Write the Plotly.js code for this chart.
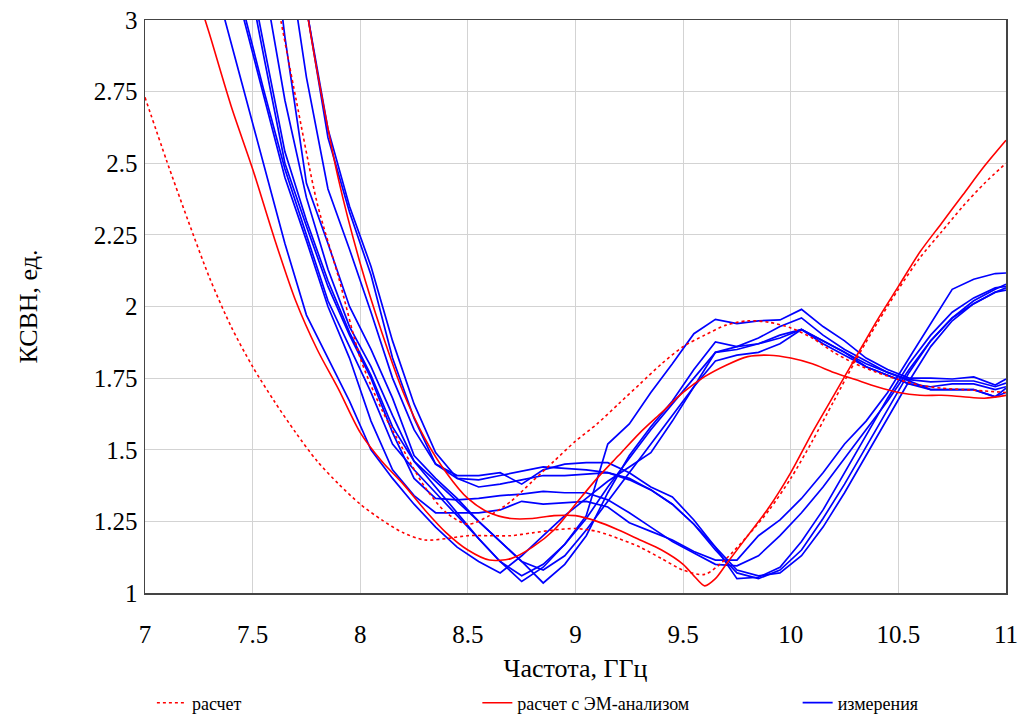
<!DOCTYPE html>
<html><head><meta charset="utf-8">
<script src="https://cdn.plot.ly/plotly-3.0.1.min.js"></script>
<style>html,body{margin:0;padding:0;background:#fff}#chart{width:1022px;height:715px}</style>
</head><body><div id="chart"></div>
<script>
// ---- "расчет" (dotted red) ----
const xCalcA = [7.0,7.1,7.2,7.3,7.4,7.5,7.6,7.7,7.8,7.9,8.0,8.1,8.2,8.3,8.4,8.5,8.6,8.7,8.8,8.9,9.0,9.1,9.2,9.3,9.4,9.5,9.6,9.7,9.8,9.9,10.0,10.1,10.2,10.3,10.4,10.5,10.6,10.7,10.8,10.9,11.0];
const yCalcA = [2.73,2.51,2.30,2.10,1.93,1.79,1.67,1.56,1.46,1.38,1.31,1.255,1.21,1.185,1.19,1.20,1.20,1.20,1.21,1.22,1.225,1.215,1.19,1.16,1.12,1.08,1.065,1.12,1.20,1.29,1.40,1.53,1.67,1.81,1.94,2.06,2.17,2.26,2.35,2.43,2.50];
const xCalcB = [7.6,7.7,7.8,7.9,8.0,8.1,8.2,8.3,8.4,8.5,8.6,8.7,8.8,8.9,9.0,9.1,9.2,9.3,9.4,9.5,9.6,9.7,9.8,9.9,10.0,10.1,10.2,10.3,10.4,10.5,10.6,10.7,10.8,10.9,11.0];
const yCalcB = [3.12,2.73,2.36,2.10,1.82,1.64,1.50,1.37,1.28,1.24,1.27,1.32,1.39,1.46,1.53,1.59,1.66,1.73,1.80,1.86,1.90,1.935,1.95,1.945,1.925,1.89,1.84,1.80,1.77,1.745,1.725,1.715,1.71,1.705,1.70];

// ---- "расчет с ЭМ-анализом" (solid red) ----
const xEmA = [7.25,7.3,7.4,7.5,7.6,7.7,7.8,7.9,8.0,8.1,8.2,8.3,8.4,8.5,8.6,8.7,8.8,8.9,9.0,9.1,9.2,9.3,9.4,9.5,9.6,9.7,9.8,9.9,10.0,10.1,10.2,10.3,10.4,10.5,10.6,10.7,10.8,10.9,11.0];
const yEmA = [3.07,2.95,2.70,2.48,2.24,2.02,1.85,1.71,1.56,1.46,1.38,1.29,1.21,1.15,1.115,1.12,1.16,1.22,1.31,1.40,1.48,1.56,1.63,1.70,1.755,1.795,1.825,1.83,1.82,1.80,1.77,1.745,1.72,1.70,1.69,1.69,1.685,1.68,1.69];
const xEmB = [7.75,7.8,7.9,8.0,8.1,8.2,8.3,8.4,8.5,8.6,8.7,8.8,8.9,9.0,9.1,9.2,9.3,9.4,9.5,9.55,9.6,9.65,9.7,9.8,9.9,10.0,10.1,10.2,10.3,10.4,10.5,10.6,10.7,10.8,10.9,11.0];
const yEmB = [3.04,2.82,2.44,2.15,1.91,1.70,1.54,1.42,1.33,1.28,1.26,1.26,1.27,1.27,1.25,1.22,1.185,1.15,1.10,1.06,1.025,1.05,1.10,1.20,1.30,1.42,1.56,1.69,1.82,1.95,2.07,2.19,2.29,2.39,2.49,2.58];

// ---- "измерения" (blue), common frequency grid ----
const xMeas = [7.25,7.35,7.45,7.55,7.65,7.75,7.85,7.95,8.05,8.15,8.25,8.35,8.45,8.55,8.65,8.75,8.85,8.95,9.05,9.15,9.25,9.35,9.45,9.55,9.65,9.75,9.85,9.95,10.05,10.15,10.25,10.35,10.45,10.55,10.65,10.75,10.85,10.95,11.0];
const meas1 = [3.33,3.06,2.78,2.50,2.22,1.97,1.82,1.67,1.50,1.40,1.31,1.23,1.16,1.11,1.07,1.13,1.20,1.27,1.33,1.39,1.44,1.49,1.60,1.72,1.81,1.83,1.84,1.87,1.92,1.88,1.84,1.79,1.76,1.73,1.71,1.71,1.71,1.685,1.715];
const meas2 = [3.62,3.32,3.03,2.74,2.45,2.23,2.00,1.82,1.60,1.43,1.34,1.28,1.28,1.28,1.29,1.32,1.31,1.315,1.32,1.30,1.245,1.215,1.185,1.145,1.115,1.115,1.20,1.255,1.33,1.42,1.52,1.60,1.70,1.82,1.94,2.06,2.095,2.115,2.117];
const meas3 = [3.65,3.35,3.06,2.76,2.48,2.25,2.02,1.86,1.70,1.52,1.43,1.35,1.27,1.19,1.11,1.04,1.09,1.17,1.27,1.52,1.59,1.70,1.80,1.905,1.955,1.94,1.95,1.953,1.99,1.93,1.88,1.82,1.78,1.75,1.75,1.747,1.754,1.726,1.747];
const meas4 = [4.04,3.66,3.27,2.88,2.50,2.28,2.07,1.90,1.75,1.56,1.40,1.33,1.325,1.33,1.34,1.345,1.355,1.35,1.35,1.325,1.28,1.23,1.18,1.14,1.10,1.095,1.13,1.20,1.28,1.37,1.47,1.57,1.67,1.78,1.88,1.96,2.02,2.06,2.078];
const meas5 = [4.08,3.69,3.31,2.92,2.54,2.30,2.09,1.91,1.76,1.58,1.46,1.39,1.32,1.25,1.18,1.11,1.035,1.10,1.20,1.35,1.48,1.58,1.67,1.78,1.876,1.86,1.89,1.93,1.96,1.90,1.85,1.81,1.77,1.745,1.737,1.74,1.74,1.72,1.733];
const meas6 = [4.46,4.02,3.59,3.15,2.72,2.38,2.13,1.93,1.79,1.62,1.46,1.37,1.28,1.19,1.11,1.06,1.10,1.17,1.26,1.37,1.47,1.57,1.66,1.75,1.84,1.85,1.87,1.90,1.92,1.87,1.83,1.79,1.76,1.73,1.72,1.73,1.73,1.71,1.72];
const meas7 = [5.40,4.80,4.20,3.56,2.94,2.43,2.22,2.00,1.85,1.68,1.48,1.40,1.33,1.25,1.18,1.11,1.08,1.13,1.22,1.32,1.42,1.52,1.62,1.72,1.84,1.86,1.87,1.89,1.92,1.88,1.84,1.80,1.77,1.74,1.71,1.71,1.71,1.685,1.70];
const meas8 = [5.30,4.80,4.30,3.80,3.30,2.80,2.41,2.20,1.98,1.75,1.57,1.45,1.40,1.395,1.41,1.425,1.44,1.435,1.43,1.42,1.395,1.36,1.31,1.24,1.15,1.07,1.05,1.08,1.15,1.26,1.38,1.51,1.64,1.77,1.88,1.96,2.01,2.05,2.057];
const meas9 = [5.30,4.90,4.40,3.95,3.50,3.05,2.59,2.33,2.11,1.82,1.61,1.45,1.41,1.41,1.42,1.38,1.43,1.45,1.455,1.455,1.42,1.37,1.335,1.255,1.16,1.05,1.055,1.09,1.18,1.29,1.42,1.55,1.68,1.80,1.90,1.98,2.03,2.065,2.07];
const meas10 = [5.40,5.00,4.50,4.00,3.50,3.04,2.62,2.35,2.14,1.88,1.66,1.49,1.40,1.37,1.38,1.395,1.41,1.41,1.415,1.42,1.40,1.36,1.31,1.24,1.16,1.08,1.06,1.07,1.13,1.23,1.35,1.48,1.61,1.74,1.86,1.95,2.01,2.05,2.065];
const measAll = [meas1,meas2,meas3,meas4,meas5,meas6,meas7,meas8,meas9,meas10];

const xTicks = [7,7.5,8,8.5,9,9.5,10,10.5,11];
const xTickText = ['7','7.5','8','8.5','9','9.5','10','10.5','11'];
const yTicks = [1,1.25,1.5,1.75,2,2.25,2.5,2.75,3];
const yTickText = ['1','1.25','1.5','1.75','2','2.25','2.5','2.75','3'];

const RED = '#ff0000', BLUE = '#0000ff';
const traces = [];
measAll.forEach((m,i) => traces.push({x:xMeas, y:m, type:'scatter', mode:'lines',
  line:{color:BLUE, width:1.7}, name:'измерения', legend:'legend3', showlegend:i===0}));
traces.push({x:xEmA, y:yEmA, type:'scatter', mode:'lines', line:{color:RED, width:1.6, shape:'spline', smoothing:0.8},
  name:'расчет с ЭМ-анализом', legend:'legend2', showlegend:true});
traces.push({x:xEmB, y:yEmB, type:'scatter', mode:'lines', line:{color:RED, width:1.6, shape:'spline', smoothing:0.8},
  name:'расчет с ЭМ-анализом', legend:'legend2', showlegend:false});
traces.push({x:xCalcA, y:yCalcA, type:'scatter', mode:'lines', line:{color:RED, width:1.6, dash:'dot', shape:'spline', smoothing:0.8},
  name:'расчет', legend:'legend', showlegend:true});
traces.push({x:xCalcB, y:yCalcB, type:'scatter', mode:'lines', line:{color:RED, width:1.6, dash:'dot', shape:'spline', smoothing:0.8},
  name:'расчет', legend:'legend', showlegend:false});

const FONT = '"Liberation Serif", "Times New Roman", serif';
const legBase = {orientation:'h', yanchor:'middle', y:-0.192, xanchor:'left', font:{family:FONT, size:18, color:'#000'},
  bgcolor:'rgba(0,0,0,0)', itemwidth:30, tracegroupgap:0};
const layout = {
  width:1022, height:715,
  margin:{l:145, r:16, t:20, b:122, autoexpand:false},
  paper_bgcolor:'#fff', plot_bgcolor:'#fff',
  font:{family:FONT, color:'#000'},
  xaxis:{range:[7,11], tickvals:xTicks, ticktext:xTickText, showgrid:true, gridcolor:'#d3d3d3', gridwidth:1,
    zeroline:false, showline:true, linecolor:'#444', linewidth:1.5, mirror:true, ticks:'', automargin:false,
    tickfont:{family:FONT, size:25, color:'#000'}, ticklabelstandoff:18,
    title:{text:'Частота, ГГц', font:{family:FONT, size:26, color:'#000'}, standoff:12}},
  yaxis:{range:[1,3], tickvals:yTicks, ticktext:yTickText, showgrid:true, gridcolor:'#d3d3d3', gridwidth:1,
    zeroline:false, showline:true, linecolor:'#444', linewidth:1.5, mirror:true, ticks:'', automargin:false,
    tickfont:{family:FONT, size:25, color:'#000'}, ticklabelstandoff:1,
    title:{text:'КСВН, ед.', font:{family:FONT, size:26, color:'#000'}, standoff:48}},
  showlegend:true,
  legend:Object.assign({}, legBase, {x:0.008}),
  legend2:Object.assign({}, legBase, {x:0.386}),
  legend3:Object.assign({}, legBase, {x:0.758})
};
Plotly.newPlot('chart', traces, layout, {displayModeBar:false, staticPlot:true});
</script></body></html>
